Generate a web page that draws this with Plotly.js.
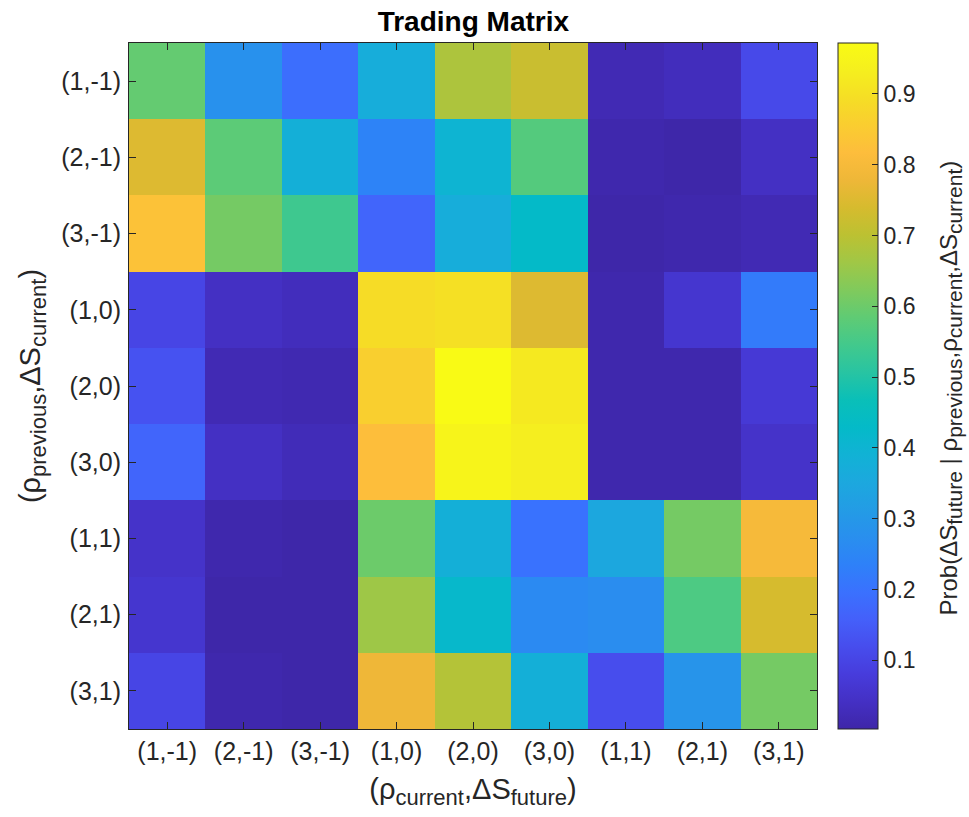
<!DOCTYPE html>
<html>
<head>
<meta charset="utf-8">
<script src="https://cdn.plot.ly/plotly-3.0.1.min.js"></script>
<style>html,body{margin:0;padding:0;background:#fff;}#chart{width:969px;height:817px;}</style>
</head>
<body>
<div id="chart"></div>
<script>
// Category labels (rows: previous state, columns: future state)
const rowLabels = ["(1,-1)", "(2,-1)", "(3,-1)", "(1,0)", "(2,0)", "(3,0)", "(1,1)", "(2,1)", "(3,1)"];
const colLabels = ["(1,-1)", "(2,-1)", "(3,-1)", "(1,0)", "(2,0)", "(3,0)", "(1,1)", "(2,1)", "(3,1)"];

// Transition probabilities, one array per row (top to bottom)
const row_1m1 = [0.59, 0.28, 0.19, 0.37, 0.68, 0.72, 0.02, 0.03, 0.11];
const row_2m1 = [0.75, 0.58, 0.38, 0.24, 0.40, 0.57, 0.01, 0.005, 0.04];
const row_3m1 = [0.83, 0.61, 0.54, 0.17, 0.37, 0.43, 0.005, 0.01, 0.02];
const row_10  = [0.10, 0.04, 0.03, 0.89, 0.90, 0.75, 0.01, 0.06, 0.22];
const row_20  = [0.13, 0.02, 0.015, 0.86, 0.97, 0.92, 0.01, 0.01, 0.07];
const row_30  = [0.17, 0.04, 0.025, 0.82, 0.95, 0.93, 0.01, 0.01, 0.05];
const row_11  = [0.05, 0.01, 0.005, 0.60, 0.38, 0.20, 0.35, 0.61, 0.80];
const row_21  = [0.06, 0.005, 0.005, 0.66, 0.42, 0.26, 0.27, 0.56, 0.74];
const row_31  = [0.10, 0.01, 0.005, 0.78, 0.69, 0.38, 0.12, 0.29, 0.61];

const zRows = [row_1m1, row_2m1, row_3m1, row_10, row_20, row_30, row_11, row_21, row_31];

const cbTicks = [0.1, 0.2, 0.3, 0.4, 0.5, 0.6, 0.7, 0.8, 0.9];

// Parula-like colour scale
const parula = [
  [0.00, "rgb(62,38,168)"],
  [0.04, "rgb(68,48,196)"],
  [0.08, "rgb(71,60,220)"],
  [0.12, "rgb(71,77,237)"],
  [0.16, "rgb(68,96,250)"],
  [0.20, "rgb(58,113,254)"],
  [0.24, "rgb(46,129,248)"],
  [0.28, "rgb(41,143,238)"],
  [0.32, "rgb(35,156,229)"],
  [0.36, "rgb(28,168,222)"],
  [0.40, "rgb(17,178,213)"],
  [0.44, "rgb(4,186,200)"],
  [0.48, "rgb(10,191,184)"],
  [0.52, "rgb(40,196,162)"],
  [0.56, "rgb(66,201,140)"],
  [0.60, "rgb(95,203,116)"],
  [0.64, "rgb(128,202,92)"],
  [0.68, "rgb(160,199,70)"],
  [0.72, "rgb(188,193,50)"],
  [0.76, "rgb(214,187,46)"],
  [0.80, "rgb(238,183,56)"],
  [0.84, "rgb(253,189,60)"],
  [0.88, "rgb(250,205,48)"],
  [0.92, "rgb(245,222,37)"],
  [0.96, "rgb(245,239,30)"],
  [1.00, "rgb(249,251,20)"]
];

const axColor = "rgb(38,38,38)";
const fontFam = "Liberation Sans, Arial, sans-serif";
const sub = (t, s) => "<sub><span style=\"font-size:" + (s || 22) + "px\">" + t + "</span></sub>";

const trace = {
  type: "heatmap",
  x: colLabels,
  y: rowLabels,
  z: zRows,
  colorscale: parula,
  zmin: 0.003,
  zmax: 0.972,
  xgap: 0, ygap: 0,
  colorbar: {
    x: 1.0305, xanchor: "left", xpad: 0,
    y: 0.5, yanchor: "middle", ypad: 0,
    len: 1, lenmode: "fraction",
    thickness: 40, thicknessmode: "pixels",
    outlinecolor: axColor, outlinewidth: 1,
    tickmode: "array", tickvals: cbTicks,
    ticks: "inside", ticklen: 6, tickcolor: axColor,
    ticklabelstandoff: 16,
    tickfont: {family: fontFam, size: 23, color: axColor}
  }
};

const layout = {
  width: 969, height: 817,
  margin: {l: 129, r: 152, t: 43, b: 88, pad: 0},
  paper_bgcolor: "#fff", plot_bgcolor: "#fff",
  title: {
    text: "<b>Trading Matrix</b>",
    x: 0.4885, xanchor: "center", y: 0.974, yanchor: "middle",
    font: {family: fontFam, size: 28, color: "#000"}
  },
  xaxis: {
    type: "category",
    showline: true, linecolor: axColor, linewidth: 1, mirror: "ticks",
    ticks: "inside", ticklen: 7, tickcolor: axColor,
    ticklabelstandoff: 0,
    tickfont: {family: fontFam, size: 25, color: axColor},
    showgrid: false, zeroline: false,
    title: {text: "(ρ" + sub("current") + ",ΔS" + sub("future") + ")", standoff: 14,
            font: {family: fontFam, size: 29, color: axColor}}
  },
  yaxis: {
    type: "category", autorange: "reversed",
    showline: true, linecolor: axColor, linewidth: 1, mirror: "ticks",
    ticks: "inside", ticklen: 7, tickcolor: axColor,
    ticklabelstandoff: 2,
    tickfont: {family: fontFam, size: 25, color: axColor},
    showgrid: false, zeroline: false,
    title: {text: "(ρ" + sub("previous") + ",ΔS" + sub("current") + ")", standoff: 12,
            font: {family: fontFam, size: 29, color: axColor}}
  },
  annotations: [{
    text: "Prob(ΔS" + sub("future", 21) + " | ρ" + sub("previous", 21) + ",ρ" + sub("current", 21) + ",ΔS" + sub("current", 21) + ")",
    xref: "paper", yref: "paper", x: 1.194, y: 0.497,
    xanchor: "center", yanchor: "middle", textangle: -90, showarrow: false,
    font: {family: fontFam, size: 24, color: axColor}
  }]
};

Plotly.newPlot("chart", [trace], layout, {displayModeBar: false, responsive: false});
</script>
</body>
</html>
